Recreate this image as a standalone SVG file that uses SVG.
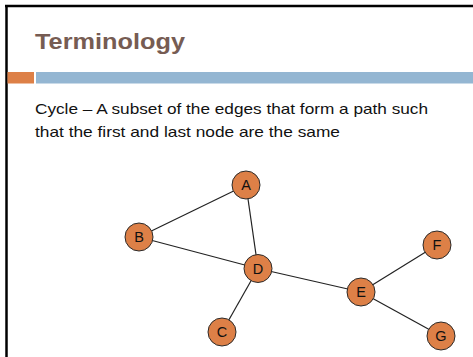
<svg xmlns="http://www.w3.org/2000/svg" width="473" height="357" viewBox="0 0 473 357">
<style>
.node circle{fill:#dd8047;stroke:#2b2b2b;stroke-width:1}
.node text{font-family:"Liberation Sans",Arial,sans-serif;font-size:14.5px;fill:#111;text-anchor:middle}
.edges line{stroke:#222;stroke-width:1.2}
.body{font-family:"Liberation Sans",Arial,sans-serif;font-size:14.5px;fill:#111}
</style>
<rect width="473" height="357" fill="#fff"/>
<line x1="6.5" y1="5" x2="6.5" y2="357" stroke="#000" stroke-width="2.5"/>
<line x1="5" y1="6" x2="473" y2="6" stroke="#000" stroke-width="2.5"/>
<text x="35" y="48.5" font-family="'Liberation Sans',Arial,sans-serif" font-weight="bold" font-size="21.5" fill="#765c53" textLength="150" lengthAdjust="spacingAndGlyphs">Terminology</text>
<rect x="7.5" y="72" width="26.5" height="11.5" fill="#dd8047"/>
<rect x="36" y="72" width="437" height="11.5" fill="#94b6d2"/>
<text class="body" x="35" y="113.5" textLength="393" lengthAdjust="spacingAndGlyphs">Cycle – A subset of the edges that form a path such</text>
<text class="body" x="35" y="136.5" textLength="305" lengthAdjust="spacingAndGlyphs">that the first and last node are the same</text>
<g class="edges">
<line x1="246" y1="185" x2="139" y2="237"/>
<line x1="246" y1="185" x2="258" y2="268.5"/>
<line x1="139" y1="237" x2="258" y2="268.5"/>
<line x1="258" y1="268.5" x2="222" y2="332"/>
<line x1="258" y1="268.5" x2="361" y2="292"/>
<line x1="361" y1="292" x2="437" y2="245"/>
<line x1="361" y1="292" x2="441" y2="336"/>
</g>
<g id="node-A" class="node"><circle cx="246" cy="185" r="14"/><text x="246" y="190.2">A</text></g>
<g id="node-B" class="node"><circle cx="139" cy="237" r="14"/><text x="139" y="242.2">B</text></g>
<g id="node-D" class="node"><circle cx="258" cy="268.5" r="14"/><text x="258" y="273.7">D</text></g>
<g id="node-C" class="node"><circle cx="222" cy="332" r="14"/><text x="222" y="337.2">C</text></g>
<g id="node-E" class="node"><circle cx="361" cy="292" r="14"/><text x="361" y="297.2">E</text></g>
<g id="node-F" class="node"><circle cx="437" cy="245" r="14"/><text x="437" y="250.2">F</text></g>
<g id="node-G" class="node"><circle cx="441" cy="336" r="14"/><text x="441" y="341.2">G</text></g>
</svg>
